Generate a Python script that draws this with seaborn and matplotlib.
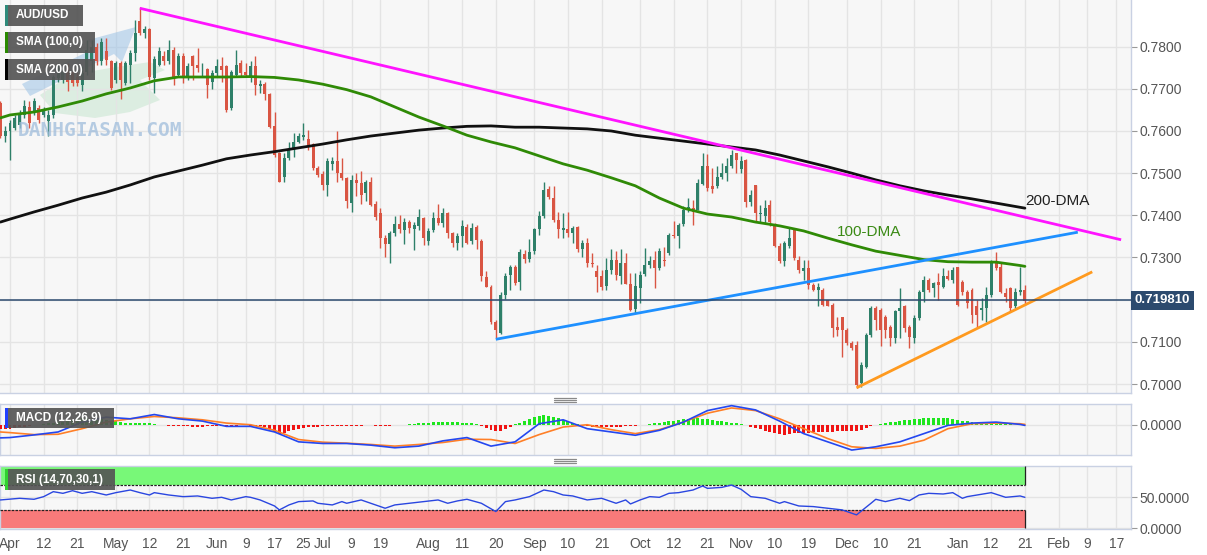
import numpy as np
import pandas as pd
import matplotlib
matplotlib.use("Agg")
import matplotlib.pyplot as plt
import matplotlib.transforms as mtrans
from matplotlib.patches import Rectangle, Polygon
from matplotlib.lines import Line2D
import seaborn as sns

# ---------------- data (prices in 1e-4 units) ----------------
first_day = "2021-03-30"
opens = [7666, 7587,
 7600, 7607, 7615, 7638, 7658, 7642, 7654, 7638, 7623, 7638,
 7725, 7721, 7749, 7741, 7729, 7710, 7741, 7765, 7800, 7765,
 7789, 7765, 7721, 7761, 7713, 7757, 7785, 7860, 7832, 7841,
 7725, 7757, 7777, 7765, 7792, 7733, 7777, 7729, 7777, 7757,
 7746, 7746, 7715, 7737, 7753, 7753, 7654, 7733, 7762, 7741,
 7731, 7753, 7707, 7711, 7687, 7611, 7547, 7492, 7535, 7555,
 7575, 7585, 7581, 7569, 7512, 7497, 7472, 7522, 7528, 7500,
 7488, 7429, 7484, 7476, 7452, 7480, 7427, 7405, 7346, 7332,
 7359, 7380, 7366, 7385, 7367, 7375, 7393, 7338, 7365, 7393,
 7381, 7406, 7357, 7335, 7351, 7373, 7338, 7372, 7340, 7253,
 7231, 7148, 7122, 7211, 7259, 7278, 7241, 7309, 7296, 7316,
 7367, 7399, 7462, 7440, 7388, 7365, 7367, 7357, 7372, 7320,
 7334, 7288, 7267, 7255, 7232, 7271, 7295, 7255, 7287, 7236,
 7178, 7228, 7262, 7283, 7295, 7275, 7295, 7311, 7354, 7350,
 7380, 7413, 7417, 7413, 7475, 7516, 7469, 7469, 7491, 7500,
 7516, 7548, 7510, 7532, 7431, 7473, 7404, 7399, 7425, 7378,
 7327, 7291, 7327, 7370, 7295, 7267, 7274, 7235, 7223, 7223,
 7199, 7188, 7136, 7160, 7128, 7097, 7093, 7002, 7041, 7116,
 7180, 7176, 7160, 7136, 7109, 7172, 7184, 7136, 7109, 7156,
 7219, 7247, 7227, 7243, 7231, 7255, 7247, 7278, 7243, 7219,
 7223, 7184, 7176, 7180, 7211, 7290, 7278, 7215, 7227, 7184,
 7219, 7223]
highs = [7670, 7612,
 7627, 7638, 7650, 7674, 7670, 7678, 7662, 7658, 7650, 7733,
 7761, 7749, 7761, 7749, 7741, 7753, 7816, 7816, 7808, 7820,
 7820, 7769, 7765, 7765, 7765, 7792, 7864, 7895, 7848, 7844,
 7777, 7800, 7789, 7816, 7800, 7785, 7785, 7761, 7780, 7796,
 7762, 7749, 7745, 7770, 7775, 7757, 7745, 7792, 7769, 7762,
 7765, 7778, 7721, 7715, 7690, 7646, 7551, 7547, 7575, 7595,
 7595, 7618, 7603, 7571, 7516, 7504, 7535, 7538, 7599, 7535,
 7492, 7496, 7500, 7504, 7484, 7492, 7433, 7417, 7354, 7362,
 7399, 7401, 7393, 7389, 7383, 7414, 7397, 7369, 7409, 7427,
 7417, 7409, 7361, 7357, 7389, 7380, 7381, 7377, 7343, 7267,
 7235, 7152, 7219, 7263, 7282, 7282, 7320, 7318, 7343, 7369,
 7410, 7480, 7470, 7470, 7409, 7405, 7409, 7375, 7375, 7342,
 7346, 7310, 7282, 7271, 7299, 7319, 7315, 7319, 7311, 7263,
 7263, 7267, 7323, 7303, 7315, 7323, 7326, 7358, 7386, 7382,
 7421, 7441, 7437, 7485, 7548, 7546, 7512, 7516, 7524, 7536,
 7556, 7548, 7540, 7533, 7461, 7473, 7425, 7436, 7436, 7382,
 7334, 7338, 7370, 7370, 7303, 7294, 7294, 7239, 7239, 7227,
 7199, 7191, 7160, 7160, 7132, 7101, 7101, 7053, 7120, 7184,
 7184, 7180, 7164, 7140, 7176, 7227, 7188, 7140, 7164, 7223,
 7255, 7251, 7243, 7263, 7274, 7270, 7278, 7278, 7247, 7223,
 7227, 7199, 7203, 7231, 7294, 7314, 7286, 7227, 7231, 7227,
 7278, 7235]
lows = [7583, 7575,
 7532, 7603, 7607, 7630, 7607, 7638, 7619, 7633, 7587, 7630,
 7717, 7713, 7694, 7706, 7707, 7694, 7733, 7741, 7757, 7757,
 7757, 7698, 7713, 7676, 7710, 7713, 7765, 7828, 7820, 7721,
 7690, 7753, 7757, 7759, 7710, 7729, 7713, 7721, 7721, 7741,
 7729, 7678, 7699, 7729, 7715, 7644, 7650, 7731, 7729, 7729,
 7717, 7686, 7690, 7674, 7607, 7539, 7478, 7478, 7531, 7539,
 7571, 7579, 7555, 7508, 7490, 7460, 7445, 7508, 7480, 7484,
 7417, 7409, 7445, 7427, 7433, 7421, 7389, 7322, 7302, 7288,
 7350, 7358, 7332, 7358, 7318, 7365, 7330, 7330, 7361, 7377,
 7373, 7346, 7326, 7318, 7326, 7332, 7332, 7320, 7245, 7229,
 7143, 7109, 7119, 7201, 7223, 7235, 7223, 7286, 7290, 7309,
 7354, 7393, 7438, 7383, 7346, 7346, 7348, 7335, 7314, 7301,
 7277, 7278, 7219, 7222, 7222, 7260, 7247, 7236, 7236, 7172,
 7169, 7192, 7255, 7275, 7228, 7271, 7279, 7307, 7346, 7323,
 7374, 7409, 7378, 7413, 7473, 7457, 7453, 7465, 7485, 7481,
 7512, 7500, 7500, 7420, 7421, 7386, 7382, 7382, 7374, 7325,
 7287, 7279, 7323, 7295, 7263, 7247, 7225, 7221, 7184, 7184,
 7184, 7111, 7113, 7065, 7093, 7081, 6990, 6994, 7037, 7112,
 7128, 7089, 7109, 7089, 7097, 7109, 7124, 7085, 7097, 7152,
 7195, 7219, 7207, 7199, 7227, 7247, 7239, 7184, 7211, 7180,
 7144, 7132, 7152, 7148, 7207, 7270, 7215, 7195, 7172, 7180,
 7211, 7188]
closes = [7587, 7600,
 7619, 7630, 7642, 7660, 7620, 7670, 7627, 7650, 7638, 7729,
 7749, 7741, 7717, 7713, 7713, 7737, 7792, 7800, 7765, 7812,
 7769, 7702, 7761, 7721, 7761, 7785, 7832, 7832, 7841, 7729,
 7770, 7789, 7765, 7792, 7729, 7777, 7729, 7753, 7753, 7749,
 7748, 7709, 7737, 7753, 7745, 7650, 7739, 7757, 7737, 7733,
 7753, 7709, 7712, 7688, 7609, 7543, 7480, 7535, 7555, 7573,
 7587, 7591, 7567, 7512, 7496, 7472, 7528, 7528, 7500, 7488,
 7433, 7484, 7476, 7449, 7480, 7425, 7397, 7346, 7332, 7359,
 7380, 7367, 7385, 7369, 7377, 7397, 7346, 7364, 7393, 7381,
 7406, 7357, 7334, 7350, 7375, 7335, 7369, 7342, 7255, 7231,
 7148, 7128, 7210, 7256, 7278, 7239, 7312, 7296, 7314, 7367,
 7399, 7460, 7443, 7388, 7367, 7371, 7357, 7369, 7320, 7334,
 7288, 7285, 7253, 7231, 7271, 7295, 7259, 7287, 7238, 7176,
 7232, 7259, 7283, 7291, 7275, 7315, 7291, 7354, 7350, 7378,
 7413, 7420, 7409, 7477, 7516, 7465, 7462, 7492, 7500, 7516,
 7544, 7532, 7528, 7431, 7449, 7406, 7406, 7417, 7383, 7327,
 7291, 7334, 7346, 7299, 7271, 7274, 7235, 7223, 7231, 7188,
 7186, 7132, 7128, 7128, 7097, 7085, 6998, 7045, 7116, 7180,
 7152, 7128, 7128, 7109, 7172, 7180, 7132, 7112, 7156, 7219,
 7247, 7223, 7239, 7235, 7255, 7248, 7270, 7188, 7219, 7191,
 7164, 7164, 7180, 7211, 7290, 7274, 7219, 7207, 7180, 7219,
 7223, 7198]

# MACD histogram per bar (1e-4 units)
macd_hist = [-14, -13,
 -12, -10, -8, -6, -4, -2, 0, 2, 4, 6,
 7, 9, 12, 15, 18, 20, 20, 18, 17, 16,
 15, 12, 10, 8, 6, 5, 5, 6, 6, 4,
 2, 0, -2, -3, -4, -5, -5, -5, -6, -6,
 -6, -5, -5, -5, -4, -4, -3, -3, -2, -2,
 -3, -4, -5, -8, -14, -22, -27, -25, -20, -16,
 -13, -10, -8, -6, -6, -5, -5, -4, -4, -4,
 -3, -3, -3, -3, -2, -2, -3, -4, -4, -3,
 -2, -1, 0, 2, 3, 4, 5, 6, 7, 7,
 8, 8, 8, 7, 6, 5, 4, 2, -4, -10,
 -16, -20, -18, -12, -6, 2, 6, 12, 18, 24,
 28, 30, 28, 24, 20, 15, 10, 6, 3, -2,
 -4, -6, -8, -8, -8, -7, -6, -6, -5, -4,
 -3, -2, -1, 2, 4, 6, 8, 10, 12, 14,
 16, 18, 19, 20, 18, 16, 14, 12, 10, 8,
 6, 4, 2, -2, -6, -10, -14, -18, -22, -25,
 -28, -30, -28, -26, -25, -24, -24, -23, -22, -22,
 -22, -21, -20, -20, -20, -19, -18, -15, -10, -4,
 0, 3, 5, 7, 9, 11, 13, 15, 17, 18,
 19, 20, 21, 21, 20, 19, 17, 14, 12, 10,
 8, 6, 4, 3, 3, 2, 2, 1, 1, 0,
 -1, -2]

# indicator samples: bar numbers (0 = first bar)
sample_bars = [0] + list(range(2, 213, 5)) + [213]
sma100 = [0.7631, 0.7638, 0.7645, 0.7657, 0.7671, 0.7688, 0.7702, 0.7719, 0.7728, 0.7728,
          0.7728, 0.7729, 0.7727, 0.7721, 0.7711, 0.7698, 0.7681, 0.7657, 0.7633, 0.7612,
          0.7590, 0.7574, 0.7560, 0.7541, 0.7522, 0.7507, 0.7489, 0.7470, 0.7441, 0.7417,
          0.7403, 0.7396, 0.7384, 0.7375, 0.7363, 0.7346, 0.7330, 0.7315, 0.7305, 0.7295,
          0.7290, 0.7289, 0.7289, 0.7281, 0.7279]
sma200 = [0.7384, 0.7391, 0.7408, 0.7424, 0.7441, 0.7455, 0.7472, 0.7491, 0.7505, 0.7519,
          0.7534, 0.7543, 0.7551, 0.7560, 0.7569, 0.7579, 0.7588, 0.7595, 0.7602, 0.7607,
          0.7611, 0.7612, 0.7609, 0.7609, 0.7607, 0.7605, 0.7600, 0.7590, 0.7583, 0.7576,
          0.7569, 0.7562, 0.7555, 0.7543, 0.7529, 0.7515, 0.7500, 0.7484, 0.7470, 0.7458,
          0.7448, 0.7439, 0.7429, 0.7419, 0.7417]
macd_line = [-0.0040, -0.0039, -0.0031, -0.0022, 0.0008, 0.0023, 0.0018, 0.0031, 0.0018, 0.0011,
             -0.0005, -0.0005, -0.0022, -0.0052, -0.0057, -0.0057, -0.0062, -0.0070, -0.0065, -0.0049,
             -0.0039, -0.0065, -0.0052, 0.0003, 0.0015, -0.0012, -0.0022, -0.0032, -0.0017, 0.0008,
             0.0043, 0.0058, 0.0045, 0.0011, -0.0027, -0.0052, -0.0077, -0.0067, -0.0052, -0.0027,
             -0.0002, 0.0005, 0.0008, 0.0001, -0.0002]
signal_line = [-0.0022, -0.0024, -0.0030, -0.0029, -0.0012, 0.0008, 0.0018, 0.0025, 0.0021, 0.0015,
               0.0005, 0.0000, -0.0017, -0.0045, -0.0053, -0.0056, -0.0060, -0.0065, -0.0060, -0.0054,
               -0.0044, -0.0045, -0.0057, -0.0030, -0.0007, 0.0000, -0.0015, -0.0027, -0.0015, 0.0008,
               0.0035, 0.0051, 0.0043, 0.0018, -0.0012, -0.0042, -0.0067, -0.0072, -0.0065, -0.0047,
               -0.0012, 0.0003, 0.0005, 0.0003, 0.0001]

# RSI readings (bar number, value)
rsi_bars = [0, 4, 7, 9, 11, 13, 15, 17, 19, 22, 24, 27, 29, 31, 32, 35, 38, 41, 44, 46,
            48, 51, 52, 54, 57, 58, 60, 62, 65, 66, 69, 71, 72, 75, 78, 80, 82, 85, 88, 91,
            93, 95, 97, 100, 103, 105, 107, 110, 113, 115, 117, 119, 122, 125, 128, 130, 131,
            133, 135, 137, 139, 141, 144, 146, 147, 150, 152, 154, 156, 159, 162, 163, 166,
            169, 172, 175, 178, 181, 182, 184, 187, 189, 191, 193, 196, 198, 200, 201, 206,
            209, 212, 213]
rsi = [45.7, 48.4, 46.8, 51.1, 59.2, 56.5, 60.8, 56.5, 59.2, 53.8, 57.6, 61.9, 57.6, 53.8,
       57.6, 53.8, 51.1, 52.2, 48.4, 50.0, 45.7, 51.1, 50.0, 45.7, 35.9, 29.5, 37.6, 43.0,
       44.1, 40.3, 37.6, 43.0, 40.3, 45.7, 37.6, 32.2, 37.6, 40.3, 43.0, 45.7, 40.3, 44.1,
       46.8, 40.3, 26.8, 43.0, 45.7, 51.1, 61.9, 59.2, 53.8, 52.2, 45.7, 48.4, 40.3, 45.7,
       39.2, 45.7, 51.1, 50.0, 56.5, 57.6, 61.9, 68.4, 64.6, 66.2, 70.0, 63.0, 51.1, 48.4,
       40.3, 43.0, 35.9, 34.9, 32.2, 29.5, 21.4, 40.3, 46.8, 43.0, 48.4, 44.6, 53.8, 56.5,
       55.4, 57.6, 48.4, 51.1, 57.6, 50.0, 52.2, 50.0]

last_price = 0.719810
# trend lines: (start date, start price, end date, end price)
trend_magenta = ("2021-05-10", 0.7891, "2022-02-18", 0.7342)
trend_blue = ("2021-08-20", 0.7106, "2022-02-07", 0.7360)
trend_orange = ("2021-12-03", 0.6991, "2022-02-10", 0.7266)

tick_dates = ["2021-04-01", "2021-04-12", "2021-04-21", "2021-05-03", "2021-05-12", "2021-05-21",
              "2021-06-01", "2021-06-09", "2021-06-17", "2021-06-25", "2021-07-01", "2021-07-09",
              "2021-07-19", "2021-08-02", "2021-08-11", "2021-08-20", "2021-09-01", "2021-09-10",
              "2021-09-21", "2021-10-01", "2021-10-12", "2021-10-21", "2021-11-01", "2021-11-10",
              "2021-11-19", "2021-12-01", "2021-12-10", "2021-12-21", "2022-01-03", "2022-01-12",
              "2022-01-21", "2022-02-01", "2022-02-09", "2022-02-17"]
tick_labels = ["Apr", "12", "21", "May", "12", "21", "Jun", "9", "17", "25", "Jul", "9", "19",
               "Aug", "11", "20", "Sep", "10", "21", "Oct", "12", "21", "Nov", "10", "19",
               "Dec", "10", "21", "Jan", "12", "21", "Feb", "9", "17"]
price_ticks = [0.70, 0.71, 0.72, 0.73, 0.74, 0.75, 0.76, 0.77, 0.78]

# ---------------- style ----------------
sns.set_style("white")
plt.rcParams["font.family"] = ["Liberation Sans", "DejaVu Sans"]

W, H = 1207, 555
fig = plt.figure(figsize=(W / 100, H / 100), dpi=100)
fig.patch.set_facecolor("white")

def fr(x0, y0, x1, y1):
    return [x0 / W, 1 - y1 / H, (x1 - x0) / W, (y1 - y0) / H]

def fp(x, y):
    return (x / W, 1 - y / H)

PLOT_R = 1131
ax = fig.add_axes(fr(0, 0, PLOT_R, 393))
axm = fig.add_axes(fr(0, 404, PLOT_R, 455))
axr = fig.add_axes(fr(0, 466, PLOT_R, 529))

calendar = pd.bdate_range(first_day, "2022-03-31")
def bar_of(d):
    return calendar.get_loc(pd.Timestamp(d))

o = np.array(opens) / 1e4
h = np.array(highs) / 1e4
l = np.array(lows) / 1e4
c = np.array(closes) / 1e4
xb = np.arange(len(c))
px_per_bar = 4.81
apr1 = bar_of("2021-04-01")
xlim = (apr1 - 10 / px_per_bar, apr1 + (PLOT_R - 10) / px_per_bar)
tick_pos = [bar_of(d) for d in tick_dates]

GRID = "#e4e4e4"
FACE = "#f7f7f7"
EDGE = "#c9d1e3"
UP, DOWN = "#2e8069", "#d95543"

for a in (ax, axm, axr):
    a.set_facecolor(FACE)
    a.set_xlim(*xlim)
    a.set_xticks(tick_pos)
    a.grid(True, axis="x", color=GRID, lw=1)
    a.set_axisbelow(True)
    for s in a.spines.values():
        s.set_color(EDGE)
        s.set_linewidth(1)
    a.yaxis.tick_right()
    a.tick_params(axis="y", length=4, color="#999999", labelcolor="#555555",
                  labelsize=10, pad=2)
    a.tick_params(axis="x", length=0, labelbottom=False)

# ---------------- watermark logo ----------------
logo_green = Polygon([fp(40, 95), fp(70, 75), fp(110, 68), fp(150, 62), fp(165, 70),
                      fp(140, 80), fp(160, 100), fp(130, 112), fp(95, 118), fp(55, 113)],
                     closed=True, transform=fig.transFigure, fc="#c7e5cf", ec="none",
                     alpha=0.55, zorder=0.5)
logo_blue = Polygon([fp(22, 84), fp(95, 48), fp(88, 40), fp(136, 27), fp(122, 62),
                     fp(114, 54), fp(30, 96)],
                    closed=True, transform=fig.transFigure, fc="#9cc3e6", ec="none",
                    alpha=0.55, zorder=0.6)
ax.add_artist(logo_green)
ax.add_artist(logo_blue)

# ---------------- main panel ----------------
ax.set_ylim(0.70 - 9 / 4217, 0.70 + 384 / 4217)
ax.set_yticks(price_ticks)
ax.set_yticklabels(["" if abs(v - 0.72) < 1e-9 else f"{v:.4f}" for v in price_ticks])
ax.grid(True, axis="y", color=GRID, lw=1)
ax.spines["left"].set_visible(False)
ax.spines["top"].set_visible(False)

up = c >= o
colors = np.where(up, UP, DOWN)
ax.vlines(xb, l, h, colors=colors, lw=1, zorder=3)
body_lo = np.minimum(o, c)
body_h = np.maximum(np.abs(c - o), 0.00006)
ax.bar(xb, body_h, bottom=body_lo, width=0.62, color=colors, zorder=4, linewidth=0)

sx = np.array(sample_bars)
sns.lineplot(x=sx, y=sma200, ax=ax, color="#111111", lw=2, zorder=5)
sns.lineplot(x=sx, y=sma100, ax=ax, color="#2f8a06", lw=2, zorder=5)

for (d0, p0, d1, p1), col in ((trend_magenta, "#ff14ff"), (trend_blue, "#1e90ff"),
                               (trend_orange, "#ff9a1f")):
    ax.plot([bar_of(d0), bar_of(d1)], [p0, p1], color=col, lw=2, zorder=6,
            solid_capstyle="butt")

ax.axhline(last_price, color="#2c4a6e", lw=1.1, zorder=6)
blend = mtrans.blended_transform_factory(ax.transAxes, ax.transData)
ax.text(1.0035, last_price, "0.719810", transform=blend, color="white", fontsize=9.5,
        fontweight="bold", va="center", ha="left", zorder=10, clip_on=False,
        bbox=dict(boxstyle="square,pad=0.28", fc="#2c4a6e", ec="none"))

ax.text(bar_of("2022-01-21"), 0.7434, "200-DMA", color="#222222", fontsize=11,
        va="center", ha="left", zorder=7)
ax.text(bar_of("2021-11-29"), 0.7360, "100-DMA", color="#3a8a14", fontsize=11,
        va="center", ha="left", zorder=7)

fig.text(18 / W, 1 - 131 / H, "DANHGIASAN.COM", color="#9fbddc", alpha=0.75, fontsize=14,
         fontweight="bold", family="DejaVu Sans Mono", va="center", ha="left")

# ---------------- MACD panel ----------------
axm.set_ylim(-0.0092, 0.0063)
axm.set_yticks([0.0])
axm.set_yticklabels(["0.0000"])
axm.grid(True, axis="y", color=GRID, lw=1)
hist = np.array(macd_hist) / 1e4
axm.bar(xb, hist, width=0.62, color=np.where(hist >= 0, "#1ee61e", "#f01414"), linewidth=0,
        zorder=3)
sns.lineplot(x=sx, y=signal_line, ax=axm, color="#ff7f27", lw=1.2, zorder=4)
sns.lineplot(x=sx, y=macd_line, ax=axm, color="#2447f0", lw=1.2, zorder=5)

# ---------------- RSI panel ----------------
axr.set_ylim(-1.6, 101)
axr.set_yticks([0, 50])
axr.set_yticklabels(["0.0000", "50.0000"])
axr.grid(True, axis="y", color=GRID, lw=1)
last_bar = len(c) - 1
axr.add_patch(Rectangle((xlim[0], 70), last_bar - xlim[0], 31, fc="#78f878", ec="none", zorder=2))
axr.add_patch(Rectangle((xlim[0], 0), last_bar - xlim[0], 30, fc="#f87a7a", ec="none", zorder=2))
axr.hlines([70, 30], xlim[0], last_bar, colors="#222222", lw=0.9, linestyles=(0, (2, 1)), zorder=3)
axr.vlines([last_bar, last_bar], [70, 0], [101, 30], colors="#222222", lw=0.9, zorder=3)
sns.lineplot(x=np.array(rsi_bars), y=rsi, ax=axr, color="#2a46e0", lw=1.0, zorder=4)
axr.tick_params(axis="x", labelbottom=True, length=3, color="#999999", labelcolor="#555555",
                labelsize=10, pad=3)
axr.set_xticklabels(tick_labels)

for a in (ax, axm, axr):
    a.set_xlabel("")
    a.set_ylabel("")
    if a.get_legend() is not None:
        a.get_legend().remove()

# ---------------- overlay labels ----------------
def label_box(x0, y0, x1, y1, text, bar_color, fs=8.5):
    fig.patches.append(Rectangle((x0 / W, 1 - y1 / H), (x1 - x0) / W, (y1 - y0) / H,
                                 transform=fig.transFigure, fc="#555555", alpha=0.92,
                                 ec="none", zorder=20))
    fig.patches.append(Rectangle((x0 / W, 1 - y1 / H), 2.5 / W, (y1 - y0) / H,
                                 transform=fig.transFigure, fc=bar_color, ec="none", zorder=21))
    fig.text((x0 + 11) / W, 1 - (y0 + y1) / 2 / H, text, color="white", fontsize=fs,
             fontweight="bold", va="center", ha="left", zorder=22)

label_box(5, 5, 83, 26, "AUD/USD", "#2e8a7a")
label_box(5, 32, 95, 53, "SMA (100,0)", "#2a8a00")
label_box(5, 59, 95, 80, "SMA (200,0)", "#000000")
label_box(5, 408, 114, 428, "MACD (12,26,9)", "#2040ff")
label_box(5, 469, 115, 490, "RSI (14,70,30,1)", "#30d030")

# panel drag handles
for yc in (400, 461):
    for dy in (-2, 0, 2):
        fig.add_artist(Line2D([554 / W, 576 / W], [1 - (yc + dy) / H] * 2,
                              transform=fig.transFigure, color="#8a8a8a", lw=0.9))

fig.savefig("out.png", dpi=100, facecolor="white")
